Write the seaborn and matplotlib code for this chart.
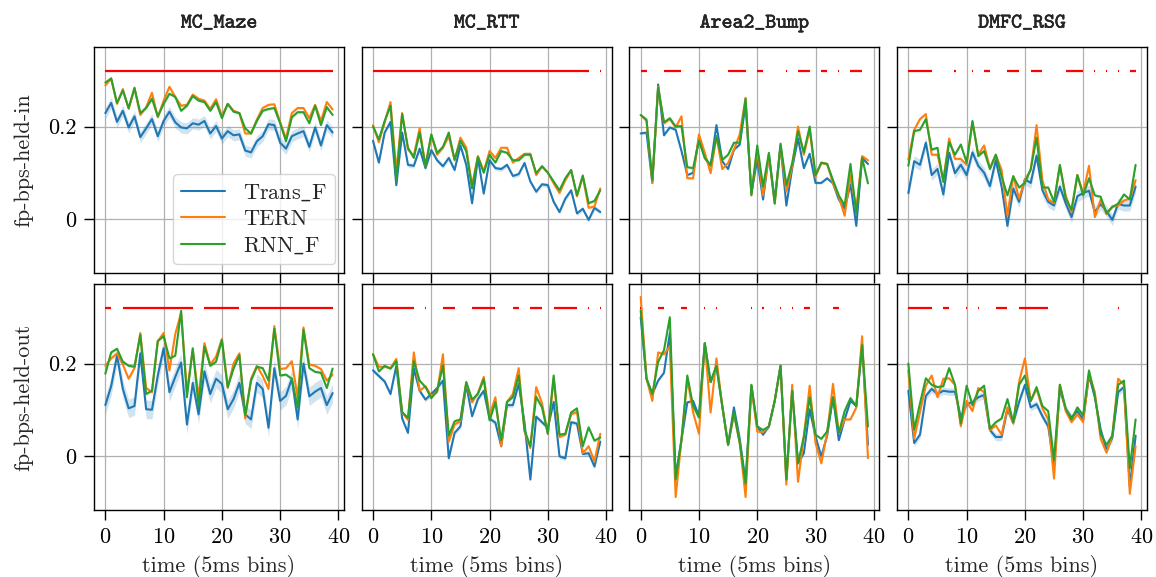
import numpy as np
import pandas as pd
import matplotlib
matplotlib.use("Agg")
import matplotlib.pyplot as plt
from matplotlib.lines import Line2D
import matplotlib.patheffects as pe
import seaborn as sns

datasets = ["MC_Maze", "MC_RTT", "Area2_Bump", "DMFC_RSG"]
metrics = ["fp-bps-held-in", "fp-bps-held-out"]
models = ["Trans_F", "TERN", "RNN_F"]
legend_labels = [r"Trans$\_$F", "TERN", r"RNN$\_$F"]
time_bins = list(range(40))
x_ticks = [0, 10, 20, 30, 40]
y_ticks = [0, 0.2]
sig_level = 0.32

# ---------------- fp-bps-held-in ----------------
maze_in_trans = [0.229,0.251,0.210,0.234,0.198,0.222,0.177,0.196,0.216,0.179,0.212,0.232,0.209,0.198,0.196,0.207,0.204,0.212,0.185,0.201,
                 0.174,0.190,0.181,0.183,0.148,0.144,0.168,0.179,0.205,0.203,0.165,0.152,0.179,0.185,0.190,0.156,0.198,0.159,0.203,0.187]
maze_in_tern = [0.289,0.304,0.249,0.281,0.238,0.282,0.225,0.242,0.273,0.220,0.256,0.286,0.264,0.245,0.247,0.269,0.260,0.256,0.238,0.259,
                0.223,0.249,0.234,0.229,0.185,0.185,0.215,0.240,0.247,0.248,0.209,0.174,0.229,0.240,0.240,0.218,0.247,0.212,0.253,0.237]
maze_in_rnn = [0.295,0.304,0.251,0.278,0.240,0.284,0.229,0.240,0.260,0.222,0.249,0.271,0.264,0.234,0.245,0.266,0.256,0.253,0.234,0.253,
               0.218,0.249,0.232,0.229,0.196,0.185,0.212,0.234,0.238,0.240,0.207,0.168,0.220,0.231,0.231,0.207,0.245,0.203,0.242,0.225]

rtt_in_trans = [0.169,0.122,0.187,0.210,0.073,0.187,0.117,0.115,0.152,0.110,0.149,0.127,0.114,0.132,0.106,0.159,0.117,0.034,0.132,0.055,
                0.127,0.110,0.108,0.117,0.093,0.097,0.121,0.081,0.059,0.075,0.073,0.037,0.015,0.044,0.062,0.012,0.022,-0.002,0.024,0.015]
rtt_in_tern = [0.203,0.166,0.209,0.253,0.103,0.229,0.150,0.137,0.196,0.115,0.181,0.139,0.154,0.179,0.127,0.176,0.154,0.073,0.136,0.103,
               0.147,0.132,0.154,0.154,0.122,0.132,0.141,0.141,0.095,0.114,0.100,0.077,0.056,0.084,0.105,0.049,0.092,0.024,0.027,0.066]
rtt_in_rnn = [0.200,0.172,0.212,0.245,0.084,0.227,0.154,0.132,0.187,0.114,0.183,0.143,0.156,0.187,0.128,0.169,0.147,0.066,0.134,0.100,
              0.139,0.122,0.147,0.143,0.127,0.127,0.139,0.139,0.099,0.114,0.100,0.081,0.062,0.088,0.106,0.051,0.094,0.034,0.039,0.062]

area2_in_trans = [0.185,0.187,0.078,0.291,0.181,0.198,0.193,0.147,0.095,0.100,0.176,0.132,0.115,0.203,0.125,0.108,0.150,0.161,0.249,0.056,
                  0.128,0.042,0.139,0.040,0.159,0.029,0.110,0.174,0.110,0.141,0.078,0.078,0.088,0.077,0.042,0.022,0.075,-0.015,0.132,0.119]
area2_in_tern = [0.225,0.212,0.078,0.286,0.207,0.216,0.198,0.222,0.088,0.088,0.183,0.143,0.099,0.179,0.108,0.121,0.150,0.183,0.262,0.053,
                 0.150,0.051,0.136,0.034,0.158,0.059,0.114,0.200,0.139,0.193,0.092,0.121,0.119,0.077,0.048,0.007,0.095,0.022,0.136,0.127]
area2_in_rnn = [0.225,0.215,0.084,0.284,0.209,0.218,0.200,0.201,0.112,0.110,0.169,0.132,0.117,0.179,0.128,0.139,0.165,0.165,0.260,0.051,
                0.159,0.070,0.143,0.033,0.163,0.073,0.121,0.190,0.144,0.200,0.095,0.122,0.119,0.084,0.051,0.029,0.119,0.011,0.132,0.077]

dmfc_in_trans = [0.056,0.125,0.117,0.165,0.095,0.108,0.053,0.143,0.099,0.117,0.095,0.144,0.115,0.100,0.071,0.127,0.070,-0.015,0.066,0.037,
                 0.086,0.078,0.137,0.062,0.037,0.029,0.070,0.034,0.004,0.049,0.056,0.061,0.015,0.032,0.017,-0.002,0.033,0.029,0.029,0.070]
dmfc_in_tern = [0.128,0.193,0.216,0.227,0.139,0.139,0.084,0.174,0.130,0.130,0.117,0.209,0.139,0.159,0.110,0.139,0.106,0.007,0.093,0.044,
                0.084,0.106,0.203,0.084,0.042,0.034,0.115,0.051,0.015,0.095,0.056,0.115,0.004,0.042,0.011,0.027,0.029,0.040,0.044,0.084]
dmfc_in_rnn = [0.115,0.190,0.193,0.216,0.150,0.154,0.080,0.166,0.139,0.161,0.122,0.212,0.136,0.147,0.108,0.139,0.092,0.051,0.092,0.068,
               0.078,0.108,0.176,0.068,0.068,0.037,0.117,0.044,0.020,0.095,0.051,0.088,0.051,0.048,0.012,0.026,0.033,0.053,0.042,0.117]

# ---------------- fp-bps-held-out ----------------
maze_out_trans = [0.110,0.151,0.217,0.145,0.103,0.108,0.222,0.101,0.100,0.174,0.233,0.138,0.171,0.202,0.068,0.158,0.090,0.183,0.134,0.167,
                  0.156,0.101,0.123,0.158,0.090,0.079,0.158,0.145,0.061,0.190,0.119,0.130,0.167,0.079,0.200,0.129,0.139,0.147,0.110,0.136]
maze_out_tern = [0.195,0.211,0.222,0.198,0.167,0.190,0.266,0.147,0.138,0.248,0.266,0.185,0.264,0.310,0.139,0.229,0.127,0.244,0.198,0.215,
                 0.253,0.147,0.200,0.222,0.081,0.167,0.195,0.173,0.145,0.281,0.188,0.190,0.205,0.127,0.278,0.198,0.195,0.188,0.163,0.176]
maze_out_rnn = [0.178,0.224,0.232,0.204,0.195,0.193,0.262,0.134,0.141,0.249,0.259,0.211,0.217,0.314,0.127,0.233,0.108,0.237,0.195,0.204,
                0.251,0.149,0.189,0.218,0.088,0.163,0.193,0.190,0.163,0.275,0.174,0.176,0.167,0.105,0.273,0.190,0.182,0.180,0.147,0.189]

rtt_out_trans = [0.185,0.173,0.161,0.134,0.195,0.081,0.050,0.189,0.141,0.122,0.134,0.147,0.163,-0.005,0.050,0.064,0.154,0.086,0.123,0.141,
                 0.081,0.072,0.021,0.110,0.110,0.156,0.072,-0.051,0.085,0.073,0.061,0.117,-0.001,-0.005,0.073,0.070,0.004,0.006,-0.023,0.031]
rtt_out_tern = [0.220,0.193,0.193,0.190,0.210,0.094,0.078,0.224,0.141,0.151,0.130,0.138,0.220,0.031,0.068,0.075,0.158,0.116,0.136,0.171,
                0.088,0.127,0.021,0.117,0.134,0.190,0.053,0.017,0.149,0.114,0.048,0.167,0.041,0.046,0.090,0.095,0.006,0.021,-0.012,0.048]
rtt_out_rnn = [0.220,0.183,0.195,0.189,0.205,0.095,0.082,0.205,0.163,0.149,0.125,0.141,0.196,0.044,0.075,0.079,0.160,0.122,0.134,0.166,
               0.077,0.116,0.034,0.117,0.127,0.174,0.056,0.021,0.128,0.105,0.048,0.174,0.046,0.048,0.094,0.103,0.021,0.062,0.033,0.040]

area2_out_trans = [0.300,0.167,0.134,0.163,0.180,0.266,-0.045,0.035,0.116,0.119,0.086,0.244,0.160,0.195,0.108,0.024,0.105,0.037,-0.056,0.152,
                   0.064,0.046,0.064,0.119,0.195,-0.051,0.141,-0.016,0.006,0.101,0.042,-0.001,0.044,0.127,0.034,0.079,0.119,0.108,0.240,0.024]
area2_out_tern = [0.344,0.167,0.119,0.224,0.220,0.237,-0.089,0.035,0.167,0.094,0.048,0.244,0.094,0.211,0.108,0.024,0.090,0.028,-0.089,0.149,
                  0.053,0.051,0.064,0.119,0.195,-0.062,0.154,-0.056,0.042,0.152,0.028,-0.016,0.050,0.156,0.050,0.079,0.079,0.105,0.259,-0.005]
area2_out_rnn = [0.315,0.167,0.134,0.204,0.229,0.300,-0.051,0.035,0.174,0.108,0.083,0.244,0.160,0.195,0.108,0.024,0.094,0.028,-0.060,0.154,
                 0.064,0.056,0.064,0.119,0.195,-0.051,0.141,-0.016,0.042,0.127,0.046,0.037,0.053,0.127,0.050,0.097,0.125,0.108,0.240,0.064]

dmfc_out_trans = [0.141,0.028,0.046,0.130,0.145,0.134,0.141,0.139,0.139,0.083,0.112,0.116,0.127,0.132,0.056,0.041,0.041,0.101,0.072,0.117,
                  0.154,0.105,0.112,0.086,0.064,-0.020,0.145,0.101,0.083,0.097,0.079,0.174,0.127,0.057,0.013,0.039,0.138,0.149,-0.067,0.044]
dmfc_out_tern = [0.185,0.037,0.095,0.152,0.174,0.127,0.167,0.168,0.154,0.064,0.119,0.097,0.147,0.138,0.056,0.066,0.046,0.105,0.070,0.160,
                 0.211,0.119,0.145,0.103,0.079,-0.049,0.154,0.097,0.073,0.090,0.073,0.178,0.138,0.037,0.007,0.044,0.167,0.154,-0.082,0.021]
dmfc_out_rnn = [0.200,0.057,0.114,0.168,0.154,0.149,0.151,0.190,0.154,0.070,0.152,0.110,0.141,0.152,0.059,0.073,0.081,0.123,0.073,0.154,
                0.174,0.119,0.149,0.108,0.097,-0.009,0.154,0.103,0.079,0.105,0.088,0.185,0.130,0.048,0.024,0.044,0.154,0.163,-0.027,0.079]

# Half-width of the shaded seed spread (Trans_F, TERN, RNN_F) per panel
band_in = [[0.012, 0.003, 0.003], [0.005, 0.003, 0.003], [0.003, 0.003, 0.003], [0.012, 0.003, 0.003]]
band_out = [[0.020, 0.003, 0.003], [0.005, 0.003, 0.003], [0.003, 0.003, 0.003], [0.008, 0.003, 0.003]]

# Time-bin intervals where the difference is significant (red marks)
sig_in = [
    [(0, 39)],
    [(0, 37), (39, 39)],
    [(0, 1), (4, 7), (10, 11), (15, 18), (20, 21), (25, 25), (27, 29), (31, 32), (34, 34), (36, 38)],
    [(0, 4), (8, 8), (11, 11), (13, 14), (17, 19), (21, 23), (27, 30), (32, 32), (34, 34), (36, 36), (38, 39)],
]
sig_out = [
    [(0, 1), (3, 15), (17, 23), (25, 39)],
    [(0, 7), (9, 9), (12, 14), (17, 21), (24, 25), (27, 29), (31, 35), (37, 37), (39, 39)],
    [(0, 0), (3, 4), (7, 8), (11, 11), (13, 13), (19, 19), (21, 21), (24, 24), (26, 26), (28, 29), (33, 34)],
    [(0, 4), (6, 7), (10, 10), (12, 12), (15, 17), (19, 24), (36, 36)],
]

series = {
    ("fp-bps-held-in", "MC_Maze"): [maze_in_trans, maze_in_tern, maze_in_rnn],
    ("fp-bps-held-in", "MC_RTT"): [rtt_in_trans, rtt_in_tern, rtt_in_rnn],
    ("fp-bps-held-in", "Area2_Bump"): [area2_in_trans, area2_in_tern, area2_in_rnn],
    ("fp-bps-held-in", "DMFC_RSG"): [dmfc_in_trans, dmfc_in_tern, dmfc_in_rnn],
    ("fp-bps-held-out", "MC_Maze"): [maze_out_trans, maze_out_tern, maze_out_rnn],
    ("fp-bps-held-out", "MC_RTT"): [rtt_out_trans, rtt_out_tern, rtt_out_rnn],
    ("fp-bps-held-out", "Area2_Bump"): [area2_out_trans, area2_out_tern, area2_out_rnn],
    ("fp-bps-held-out", "DMFC_RSG"): [dmfc_out_trans, dmfc_out_tern, dmfc_out_rnn],
}
bands = {"fp-bps-held-in": band_in, "fp-bps-held-out": band_out}
sigs = {"fp-bps-held-in": sig_in, "fp-bps-held-out": sig_out}

rows = []
for (metric, ds), vals in series.items():
    for m, v in zip(models, vals):
        for t, y in zip(time_bins, v):
            rows.append({"metric": metric, "dataset": ds, "model": m, "time": t, "value": y})
df = pd.DataFrame(rows)

palette = {"Trans_F": "#1f77b4", "TERN": "#ff7f0e", "RNN_F": "#2ca02c"}

sns.set_theme(style="ticks")
plt.rcParams.update({
    "font.family": ["cmr10", "DejaVu Serif"],
    "mathtext.fontset": "cm",
    "mathtext.rm": "cmr10",
    "axes.formatter.use_mathtext": True,
    "axes.unicode_minus": False,
    "axes.edgecolor": "black",
    "axes.linewidth": 1.0,
    "axes.grid": True,
    "grid.color": "#b0b0b0",
    "grid.linewidth": 0.9,
    "xtick.color": "black",
    "ytick.color": "black",
    "xtick.major.size": 7.5,
    "ytick.major.size": 7.5,
    "xtick.major.width": 1.0,
    "ytick.major.width": 1.0,
    "xtick.major.pad": 5,
    "ytick.major.pad": 5,
    "font.size": 16,
})

fig, axes = plt.subplots(2, 4, figsize=(11.56, 5.77), dpi=100, sharex=True, sharey=True)
fig.subplots_adjust(left=0.0813, right=0.9922, bottom=0.1161, top=0.9185, wspace=0.0707, hspace=0.0487)

for r, metric in enumerate(metrics):
    for c, ds in enumerate(datasets):
        ax = axes[r, c]
        sub = df[(df.metric == metric) & (df.dataset == ds)]
        sns.lineplot(data=sub, x="time", y="value", hue="model", hue_order=models,
                     palette=palette, errorbar=None, legend=False, linewidth=1.5, ax=ax)
        for k, m in enumerate(models):
            s = sub[sub.model == m]
            hw = bands[metric][c][k]
            ax.fill_between(s["time"], s["value"] - hw, s["value"] + hw,
                            color=palette[m], alpha=0.2, linewidth=0, zorder=1)
        for a, b in sigs[metric][c]:
            lo, hi = (a - 0.1, b + 0.1) if a == b else (a, b)
            ax.hlines(sig_level, lo, hi, color="red", linewidth=1.6, zorder=3)
        ax.set_xlim(-1.95, 40.95)
        ax.set_ylim(-0.117, 0.372)
        ax.set_xticks(x_ticks)
        ax.set_yticks(y_ticks)
        ax.set_yticklabels(["0", "0.2"])
        ax.tick_params(labelsize=16)
        ax.grid(True)
        ax.set_xlabel("time (5ms bins)" if r == 1 else "", fontsize=16, labelpad=6)
        ax.set_ylabel(metric if c == 0 else "", fontsize=16, labelpad=11)
        if r == 0:
            ax.set_title(ds, family="cmtt10", fontsize=15, pad=14,
                         path_effects=[pe.withStroke(linewidth=0.35, foreground="black")])
        for sp in ax.spines.values():
            sp.set_visible(True)
            sp.set_color("black")

handles = [Line2D([], [], color=palette[m], linewidth=1.5) for m in models]
axes[0, 0].legend(handles, legend_labels, loc="lower right", fontsize=16, frameon=True,
                  framealpha=0.8, edgecolor="#cccccc", borderaxespad=0.4,
                  handlelength=2.0, labelspacing=0.3, borderpad=0.35)

fig.savefig("out.png", dpi=100)
